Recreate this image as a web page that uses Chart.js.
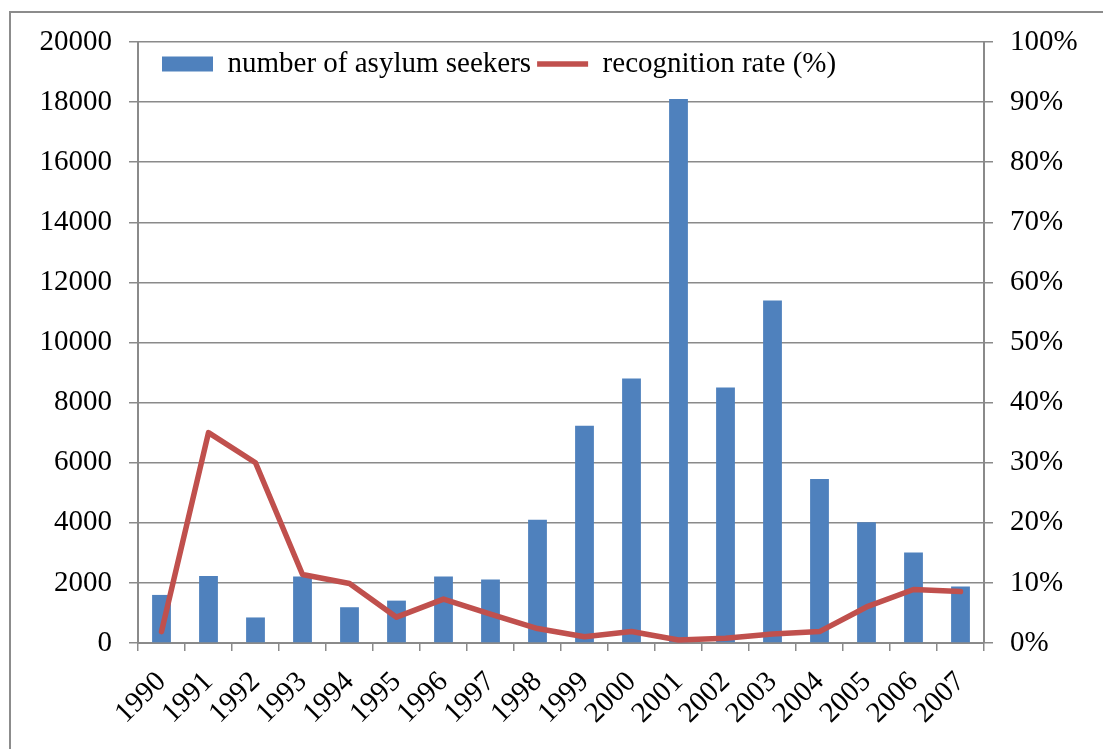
<!DOCTYPE html>
<html>
<head>
<meta charset="utf-8">
<script src="https://cdn.jsdelivr.net/npm/chart.js@4/dist/chart.umd.min.js"></script>
<style>
  html, body { margin: 0; padding: 0; background: #fff; }
  body { width: 1103px; height: 749px; position: relative; overflow: hidden; }
  .frame { position: absolute; left: 9px; top: 11px; right: -10px; bottom: -10px;
           border-left: 2px solid #8c8c8c; border-top: 2px solid #8c8c8c; }
  #wrap { position: absolute; left: 0; top: 0; width: 1103px; height: 749px; }
</style>
</head>
<body>
<div class="frame"></div>
<div id="wrap"><canvas id="chart" width="1103" height="749"></canvas></div>
<script>
// Years shown along the category axis
const years = ['1990','1991','1992','1993','1994','1995','1996','1997','1998',
               '1999','2000','2001','2002','2003','2004','2005','2006','2007'];

// Number of asylum seekers per year (left axis)
const asylumSeekers = [1600, 2230, 850, 2210, 1190, 1410, 2210, 2110, 4100,
                       7230, 8800, 18100, 8500, 11400, 5460, 4020, 3010, 1880];

// Recognition rate in percent (right axis)
const recognitionRate = [1.9, 35, 30, 11.4, 9.9, 4.3, 7.3, 4.8, 2.4,
                         1.05, 1.9, 0.5, 0.8, 1.5, 1.9, 6.0, 8.9, 8.55];

// Axis tick labels
const leftTicks = [0, 2000, 4000, 6000, 8000, 10000, 12000, 14000, 16000, 18000, 20000];
const rightTicks = ['0%','10%','20%','30%','40%','50%','60%','70%','80%','90%','100%'];

const FONT = { family: '"Liberation Serif", "Times New Roman", serif', size: 29 };
const GRID = '#8a8a8a';
const LEGEND_PAD = 6;

// Place the one-row legend inside the plot, near its top-left corner.
// The legend reserves almost no layout height (maxHeight), so its box is
// restored here to a full row before it is drawn (the legend clips to its box).
const legendInPlot = {
  id: 'legendInPlot',
  afterLayout(chart) {
    const lg = chart.legend;
    const area = chart.chartArea;
    if (!lg) return;
    const w = area.right - area.left - 24;
    const h = FONT.size + 2 * LEGEND_PAD + 10;
    lg.width = w;
    lg.height = h;
    lg.left = area.left + 24 - LEGEND_PAD;
    lg.right = lg.left + w;
    lg.top = area.top + 7.5 - LEGEND_PAD;
    lg.bottom = lg.top + h;
  }
};

new Chart(document.getElementById('chart'), {
  data: {
    labels: years,
    datasets: [
      {
        type: 'line',
        label: 'recognition rate (%)',
        data: recognitionRate,
        yAxisID: 'yRate',
        borderColor: '#C0504D',
        backgroundColor: '#C0504D',
        borderWidth: 5.5,
        pointRadius: 0,
        pointStyle: 'line',
        tension: 0,
        borderJoinStyle: 'round',
        borderCapStyle: 'round',
        order: 1
      },
      {
        type: 'bar',
        label: 'number of asylum seekers',
        data: asylumSeekers,
        yAxisID: 'yCount',
        backgroundColor: '#4F81BD',
        borderWidth: 0,
        pointStyle: 'rect',
        barPercentage: 0.8,
        categoryPercentage: 0.5,
        order: 2
      }
    ]
  },
  options: {
    responsive: false,
    animation: false,
    layout: { padding: { left: 10, top: 41, right: 0, bottom: 0 } },
    plugins: {
      tooltip: { enabled: false },
      legend: {
        position: 'top',
        align: 'start',
        reverse: true,
        maxHeight: 1,
        labels: {
          font: FONT,
          color: '#000',
          padding: LEGEND_PAD,
          usePointStyle: true,
          pointStyleWidth: 51,
          boxHeight: 15
        }
      }
    },
    scales: {
      x: {
        offset: true,
        grid: { display: true, offset: true, drawOnChartArea: false, color: GRID,
                lineWidth: 1.5, tickLength: 8 },
        border: { display: true, color: GRID, width: 2 },
        ticks: { font: FONT, color: '#000', maxRotation: 45, minRotation: 45,
                 autoSkip: false, padding: 14 },
        afterFit(scale) { scale.height = 106; }
      },
      yCount: {
        type: 'linear',
        position: 'left',
        min: 0, max: 20000,
        afterBuildTicks(scale) { scale.ticks = leftTicks.map(v => ({ value: v })); },
        grid: { color: GRID, lineWidth: 1.5, tickLength: 9 },
        border: { display: true, color: GRID, width: 2 },
        ticks: { font: FONT, color: '#000', padding: 17, callback: v => String(v) },
        afterFit(scale) { scale.width = 128; }
      },
      yRate: {
        type: 'linear',
        position: 'right',
        min: 0, max: 100,
        afterBuildTicks(scale) { scale.ticks = rightTicks.map((t, i) => ({ value: i * 10 })); },
        grid: { drawOnChartArea: false, color: GRID, lineWidth: 1.5, tickLength: 9 },
        border: { display: true, color: GRID, width: 2 },
        ticks: { font: FONT, color: '#000', padding: 17,
                 callback: (v, i) => rightTicks[i] },
        afterFit(scale) { scale.width = 119; }
      }
    }
  },
  plugins: [legendInPlot]
});
</script>
</body>
</html>
